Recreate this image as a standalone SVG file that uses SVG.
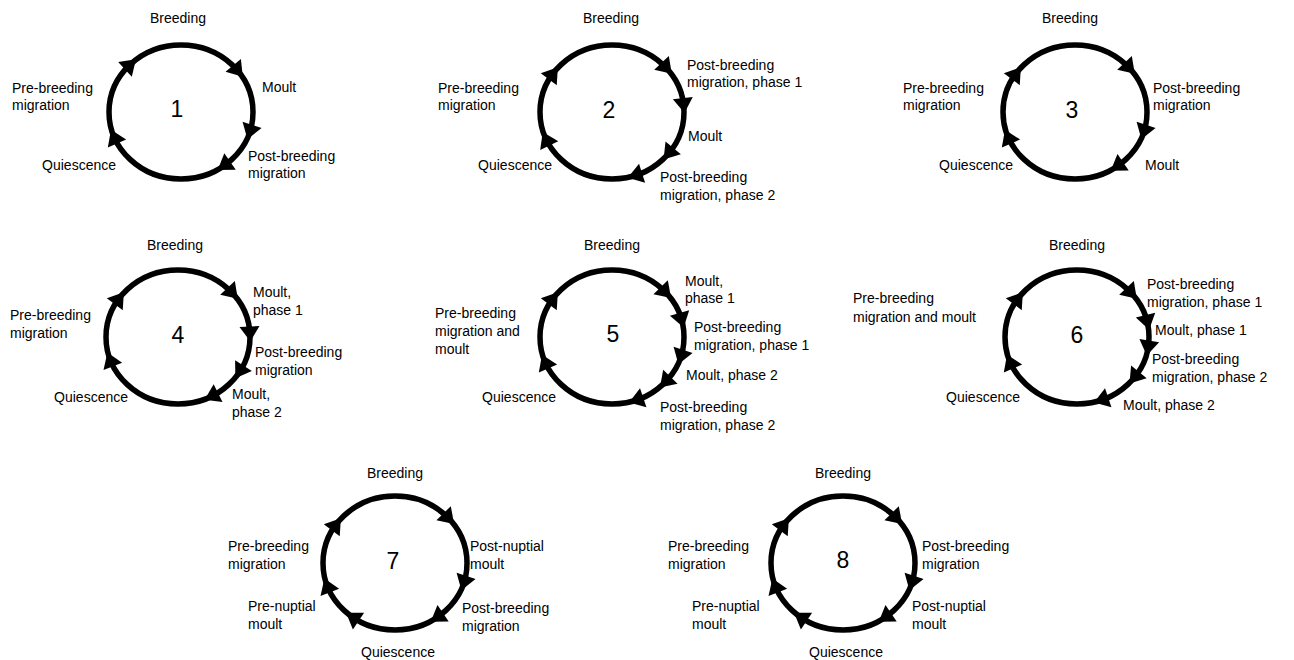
<svg xmlns="http://www.w3.org/2000/svg" xmlns:xlink="http://www.w3.org/1999/xlink" width="1294" height="660" viewBox="0 0 1294 660">
<style>
.ring{fill:none;stroke:#000;stroke-width:5.5}
.ah{fill:#000}
text{font-family:"Liberation Sans",Arial,sans-serif;font-size:14px;fill:#000}
.num{font-size:23px;text-anchor:middle}
.c{text-anchor:middle}
.e{text-anchor:end}
</style>
<defs>
<path id="ah" d="M8 0 L-7 -10 L-7 10 Z"/>
</defs>
<rect width="1294" height="660" fill="#fff"/>
<g id="connectors">
<ellipse class="ring" cx="181" cy="112" rx="72" ry="67"/>
<use href="#ah" class="ah" transform="translate(130.1,64.6) rotate(-43)"/>
<use href="#ah" class="ah" transform="translate(237.7,70.7) rotate(50)"/>
<use href="#ah" class="ah" transform="translate(249.9,131.6) rotate(108)"/>
<use href="#ah" class="ah" transform="translate(224.3,165.5) rotate(145)"/>
<use href="#ah" class="ah" transform="translate(114.2,137.1) rotate(-113.5)"/>

<ellipse class="ring" cx="612" cy="112" rx="72" ry="67"/>
<use href="#ah" class="ah" transform="translate(553,73.6) rotate(-53)"/>
<use href="#ah" class="ah" transform="translate(666.3,68) rotate(47)"/>
<use href="#ah" class="ah" transform="translate(683.6,105) rotate(83.6)"/>
<use href="#ah" class="ah" transform="translate(668.7,153.3) rotate(130)"/>
<use href="#ah" class="ah" transform="translate(635.4,175.4) rotate(162.3)"/>
<use href="#ah" class="ah" transform="translate(546.2,139.3) rotate(-115.6)"/>

<ellipse class="ring" cx="1075" cy="112" rx="72" ry="67"/>
<use href="#ah" class="ah" transform="translate(1016,73.6) rotate(-53)"/>
<use href="#ah" class="ah" transform="translate(1129.3,68) rotate(47)"/>
<use href="#ah" class="ah" transform="translate(1143.9,131.6) rotate(108.2)"/>
<use href="#ah" class="ah" transform="translate(1117.3,166.2) rotate(145.9)"/>
<use href="#ah" class="ah" transform="translate(1008.2,137.1) rotate(-113.5)"/>

<ellipse class="ring" cx="178" cy="337" rx="72" ry="67"/>
<use href="#ah" class="ah" transform="translate(119,298.6) rotate(-53)"/>
<use href="#ah" class="ah" transform="translate(232.3,293) rotate(47)"/>
<use href="#ah" class="ah" transform="translate(249.9,333.5) rotate(86.7)"/>
<use href="#ah" class="ah" transform="translate(239.7,371.5) rotate(122.9)"/>
<use href="#ah" class="ah" transform="translate(211.8,396.2) rotate(153.7)"/>
<use href="#ah" class="ah" transform="translate(110.3,359.9) rotate(-111.3)"/>

<ellipse class="ring" cx="612" cy="337" rx="72" ry="67"/>
<use href="#ah" class="ah" transform="translate(553,298.6) rotate(-53)"/>
<use href="#ah" class="ah" transform="translate(665.5,292.2) rotate(45.9)"/>
<use href="#ah" class="ah" transform="translate(681.5,319.7) rotate(74)"/>
<use href="#ah" class="ah" transform="translate(680.9,356.6) rotate(108.2)"/>
<use href="#ah" class="ah" transform="translate(665.5,381.8) rotate(134.1)"/>
<use href="#ah" class="ah" transform="translate(636.6,400) rotate(161.3)"/>
<use href="#ah" class="ah" transform="translate(545.2,362.1) rotate(-113.5)"/>

<ellipse class="ring" cx="1077" cy="337" rx="72" ry="67"/>
<use href="#ah" class="ah" transform="translate(1018,298.6) rotate(-53)"/>
<use href="#ah" class="ah" transform="translate(1131.3,293) rotate(47)"/>
<use href="#ah" class="ah" transform="translate(1147.2,321.9) rotate(76.1)"/>
<use href="#ah" class="ah" transform="translate(1148.1,347.5) rotate(99.7)"/>
<use href="#ah" class="ah" transform="translate(1134.5,377.3) rotate(128.9)"/>
<use href="#ah" class="ah" transform="translate(1101.6,400) rotate(161.3)"/>
<use href="#ah" class="ah" transform="translate(1010.2,362.1) rotate(-113.5)"/>

<ellipse class="ring" cx="395" cy="563" rx="72" ry="67"/>
<use href="#ah" class="ah" transform="translate(336,524.6) rotate(-53)"/>
<use href="#ah" class="ah" transform="translate(448.5,518.2) rotate(45.9)"/>
<use href="#ah" class="ah" transform="translate(463.9,582.6) rotate(108.2)"/>
<use href="#ah" class="ah" transform="translate(437.3,617.2) rotate(145.9)"/>
<use href="#ah" class="ah" transform="translate(352.7,617.2) rotate(-145.9)"/>
<use href="#ah" class="ah" transform="translate(327.3,585.9) rotate(-111.3)"/>

<ellipse class="ring" cx="843" cy="563" rx="72" ry="67"/>
<use href="#ah" class="ah" transform="translate(784,524.6) rotate(-53)"/>
<use href="#ah" class="ah" transform="translate(896.5,518.2) rotate(45.9)"/>
<use href="#ah" class="ah" transform="translate(911.9,582.6) rotate(108.2)"/>
<use href="#ah" class="ah" transform="translate(885.3,617.2) rotate(145.9)"/>
<use href="#ah" class="ah" transform="translate(800.7,617.2) rotate(-145.9)"/>
<use href="#ah" class="ah" transform="translate(775.3,585.9) rotate(-111.3)"/>
</g>

<g id="cycle-1">
<text class="num" x="177" y="117">1</text>
<text class="c" x="178" y="23">Breeding</text>
<text x="12" y="93">Pre-breeding</text>
<text x="12" y="110">migration</text>
<text x="262" y="92">Moult</text>
<text class="e" x="116" y="170">Quiescence</text>
<text x="248" y="161">Post-breeding</text>
<text x="248" y="178">migration</text>
</g>

<g id="cycle-2">
<text class="num" x="609" y="118">2</text>
<text class="c" x="611" y="23">Breeding</text>
<text x="438" y="93">Pre-breeding</text>
<text x="438" y="110">migration</text>
<text x="687" y="70">Post-breeding</text>
<text x="687" y="87">migration, phase 1</text>
<text x="688" y="141">Moult</text>
<text class="e" x="552" y="170">Quiescence</text>
<text x="660" y="182">Post-breeding</text>
<text x="660" y="200">migration, phase 2</text>
</g>

<g id="cycle-3">
<text class="num" x="1072" y="118">3</text>
<text class="c" x="1070" y="23">Breeding</text>
<text x="903" y="93">Pre-breeding</text>
<text x="903" y="110">migration</text>
<text x="1153" y="93">Post-breeding</text>
<text x="1153" y="110">migration</text>
<text class="e" x="1013" y="170">Quiescence</text>
<text x="1145" y="170">Moult</text>
</g>

<g id="cycle-4">
<text class="num" x="178" y="343">4</text>
<text class="c" x="175" y="250">Breeding</text>
<text x="10" y="320">Pre-breeding</text>
<text x="10" y="338">migration</text>
<text x="253" y="297">Moult,</text>
<text x="253" y="315">phase 1</text>
<text x="255" y="357">Post-breeding</text>
<text x="255" y="375">migration</text>
<text class="e" x="128" y="402">Quiescence</text>
<text x="232" y="399">Moult,</text>
<text x="232" y="417">phase 2</text>
</g>

<g id="cycle-5">
<text class="num" x="613" y="342">5</text>
<text class="c" x="612" y="250">Breeding</text>
<text x="435" y="318">Pre-breeding</text>
<text x="435" y="336">migration and</text>
<text x="435" y="354">moult</text>
<text x="685" y="286">Moult,</text>
<text x="685" y="303">phase 1</text>
<text x="694" y="332">Post-breeding</text>
<text x="694" y="350">migration, phase 1</text>
<text x="686" y="380">Moult, phase 2</text>
<text class="e" x="556" y="402">Quiescence</text>
<text x="660" y="412">Post-breeding</text>
<text x="660" y="430">migration, phase 2</text>
</g>

<g id="cycle-6">
<text class="num" x="1077" y="343">6</text>
<text class="c" x="1077" y="250">Breeding</text>
<text x="853" y="303">Pre-breeding</text>
<text x="853" y="322">migration and moult</text>
<text x="1147" y="289">Post-breeding</text>
<text x="1147" y="307">migration, phase 1</text>
<text x="1155" y="335">Moult, phase 1</text>
<text x="1152" y="364">Post-breeding</text>
<text x="1152" y="382">migration, phase 2</text>
<text class="e" x="1020" y="402">Quiescence</text>
<text x="1123" y="410">Moult, phase 2</text>
</g>

<g id="cycle-7">
<text class="num" x="393" y="569">7</text>
<text class="c" x="395" y="478">Breeding</text>
<text x="228" y="551">Pre-breeding</text>
<text x="228" y="569">migration</text>
<text x="470" y="551">Post-nuptial</text>
<text x="470" y="569">moult</text>
<text x="248" y="611">Pre-nuptial</text>
<text x="248" y="629">moult</text>
<text x="462" y="613">Post-breeding</text>
<text x="462" y="631">migration</text>
<text class="c" x="398" y="657">Quiescence</text>
</g>

<g id="cycle-8">
<text class="num" x="843" y="568">8</text>
<text class="c" x="843" y="478">Breeding</text>
<text x="668" y="551">Pre-breeding</text>
<text x="668" y="569">migration</text>
<text x="922" y="551">Post-breeding</text>
<text x="922" y="569">migration</text>
<text x="692" y="611">Pre-nuptial</text>
<text x="692" y="629">moult</text>
<text x="912" y="611">Post-nuptial</text>
<text x="912" y="629">moult</text>
<text class="c" x="846" y="657">Quiescence</text>
</g>
</svg>
